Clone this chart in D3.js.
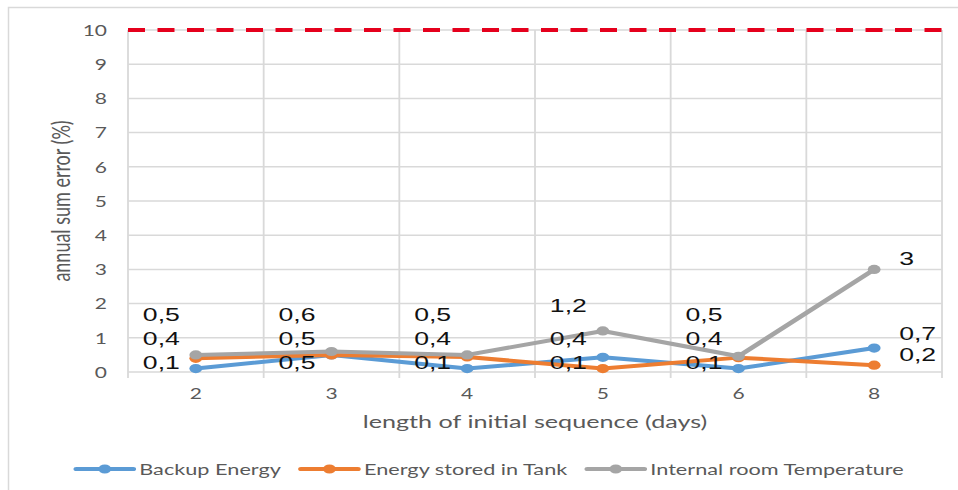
<!DOCTYPE html>
<html><head><meta charset="utf-8">
<script src="https://cdn.jsdelivr.net/npm/d3@7"></script>
<style>html,body{margin:0;padding:0;background:#fff;} svg{display:block}</style>
</head><body>
<svg id="c" width="958" height="490"></svg>
<script>
// ---- data ----
const categories = ["2", "3", "4", "5", "6", "8"];
const backupEnergy = [0.1, 0.5, 0.1, 0.43, 0.1, 0.7];
const energyTank = [0.4, 0.5, 0.44, 0.1, 0.42, 0.2];
const roomTemperature = [0.5, 0.6, 0.5, 1.2, 0.46, 3];
const limitValue = 10;
const yTicks = [0, 1, 2, 3, 4, 5, 6, 7, 8, 9, 10];
const seriesNames = ["Backup Energy", "Energy stored in Tank", "Internal room Temperature"];
const seriesColors = ["#5B9BD5", "#ED7D31", "#A5A5A5"];
const xTitle = "length of initial sequence (days)";
const yTitle = "annual sum error (%)";

// ---- layout ----
const SX = 1.4; // horizontal stretch of the original picture
const FONT = "Lato, 'Open Sans', sans-serif";
const svg = d3.select("#c");
svg.append("rect").attr("x", 8.5).attr("y", 7.5).attr("width", 1000).attr("height", 600)
  .attr("fill", "#fff").attr("stroke", "#d9d9d9").attr("stroke-width", 1.5);
const g = svg.append("g").attr("transform", `scale(${SX},1)`);

const x = d3.scaleBand().domain(categories).range([128 / SX, 942 / SX]);
const y = d3.scaleLinear().domain([0, 10]).range([372, 30]);
const cx = c => x(c) + x.bandwidth() / 2;
const [x0, x1] = x.range();
const grid = "#d9d9d9";

// horizontal gridlines
g.append("g").selectAll("line").data(yTicks).join("line")
  .attr("x1", x0).attr("x2", x1).attr("y1", d => y(d)).attr("y2", d => y(d))
  .attr("stroke", grid).attr("stroke-width", 1.5);
// vertical gridlines at band edges
const edges = categories.map(c => x(c)).concat([x1]);
g.append("g").selectAll("line").data(edges).join("line")
  .attr("x1", d => d).attr("x2", d => d).attr("y1", y(10)).attr("y2", y(0) + 6)
  .attr("stroke", grid).attr("stroke-width", 1.3);

// y tick labels
g.append("g").selectAll("text").data(yTicks).join("text")
  .attr("x", 107 / SX).attr("y", d => y(d)).attr("text-anchor", "end")
  .attr("dominant-baseline", "central").attr("fill", "#595959")
  .style("font-family", FONT).style("font-size", "15px").text(d => d);
// x tick labels
g.append("g").selectAll("text").data(categories).join("text")
  .attr("x", d => cx(d)).attr("y", 393).attr("text-anchor", "middle")
  .attr("dominant-baseline", "central").attr("fill", "#595959")
  .style("font-family", FONT).style("font-size", "15px").text(d => d);

// axis titles
g.append("text").attr("x", ((x0 + x1) / 2)).attr("y", 421).attr("text-anchor", "middle")
  .attr("dominant-baseline", "central").attr("fill", "#595959")
  .style("font-family", FONT).style("font-size", "18px").text(xTitle);
g.append("text").attr("transform", `translate(${60 / SX},${(y(0) + y(10)) / 2}) rotate(-90)`)
  .attr("text-anchor", "middle").attr("dominant-baseline", "central").attr("fill", "#595959")
  .style("font-family", FONT).style("font-size", "18px").text(yTitle);

// red dashed limit line
g.append("line").attr("x1", x0).attr("x2", x1).attr("y1", y(limitValue)).attr("y2", y(limitValue))
  .attr("stroke", "#E5001C").attr("stroke-width", 4).attr("stroke-dasharray", `${17 / SX} ${12.5 / SX}`);

// series
const series = [backupEnergy, energyTank, roomTemperature];
const line = d3.line().x((d, i) => cx(categories[i])).y(d => y(d));
series.forEach((vals, s) => {
  g.append("path").datum(vals).attr("d", line).attr("fill", "none")
    .attr("stroke", seriesColors[s]).attr("stroke-width", 4)
    .attr("stroke-linejoin", "round").attr("stroke-linecap", "round");
  g.append("g").selectAll("circle").data(vals).join("circle")
    .attr("cx", (d, i) => cx(categories[i])).attr("cy", d => y(d)).attr("r", 4.6)
    .attr("fill", seriesColors[s]);
});

// data labels
const fmt = d3.formatLocale({decimal: ",", thousands: ".", grouping: [3], currency: ["", ""]}).format(".1~f");
const labels = [];
categories.forEach((c, i) => {
  const vals = series.map((v, s) => ({v: v[i], s}));
  vals.sort((a, b) => a.v - b.v);
  const last = i === categories.length - 1;
  if (last) {
    let prev = Infinity;
    vals.forEach(o => {
      const py = Math.min(y(o.v) - 11, prev - 21);
      prev = py;
      labels.push({x: cx(c) + 25 / SX, y: py, anchor: "start", t: fmt(o.v)});
    });
  } else {
    vals.forEach((o, r) => {
      let py = y(0) - 10 - 24 * r;
      if (r === vals.length - 1) py = Math.min(py, y(o.v) - 26);
      labels.push({x: cx(c) - 16 / SX, y: py, anchor: "end", t: fmt(o.v)});
    });
  }
});
g.append("g").selectAll("text").data(labels).join("text")
  .attr("x", d => d.x).attr("y", d => d.y).attr("text-anchor", d => d.anchor)
  .attr("dominant-baseline", "central").attr("fill", "#111")
  .style("font-family", "'Liberation Sans', Arial, sans-serif").style("font-size", "19px")
  .text(d => d.t);

// legend
const leg = g.append("g");
let lx = 0;
const lineLen = 57 / SX, txtGap = 6 / SX, itemGap = 20 / SX;
seriesNames.forEach((name, s) => {
  const it = leg.append("g").attr("transform", `translate(${lx},0)`);
  it.append("line").attr("x1", 0).attr("x2", lineLen).attr("y1", 0).attr("y2", 0)
    .attr("stroke", seriesColors[s]).attr("stroke-width", 4).attr("stroke-linecap", "round");
  it.append("circle").attr("cx", lineLen / 2).attr("cy", 0).attr("r", 4.6).attr("fill", seriesColors[s]);
  const t = it.append("text").attr("x", lineLen + txtGap).attr("y", 0).attr("dominant-baseline", "central")
    .attr("fill", "#595959").style("font-family", FONT).style("font-size", "15.5px").text(name);
  lx += lineLen + txtGap + t.node().getComputedTextLength() + itemGap;
});
const legW = lx - itemGap;
leg.attr("transform", `translate(${490 / SX - legW / 2},469)`);
</script>
</body></html>
